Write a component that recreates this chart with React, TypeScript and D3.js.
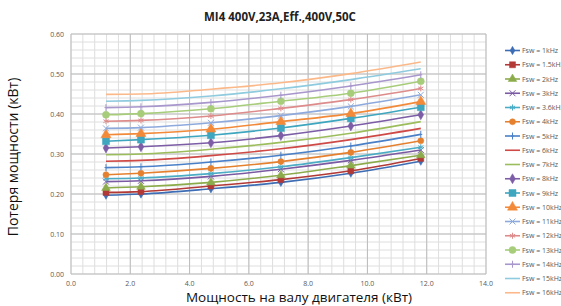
import React from 'react';
import * as d3 from 'd3';

// shaft power, kW
const powerKw = [1.18, 2.36, 4.72, 7.08, 9.44, 11.8];

// losses, kW, one list per switching frequency
const loss1k = [0.197, 0.200, 0.213, 0.229, 0.252, 0.282];
const loss1_5k = [0.204, 0.206, 0.220, 0.236, 0.258, 0.289];
const loss2k = [0.215, 0.218, 0.229, 0.247, 0.271, 0.297];
const loss3k = [0.231, 0.233, 0.244, 0.262, 0.284, 0.310];
const loss3_6k = [0.238, 0.240, 0.251, 0.268, 0.291, 0.317];
const loss4k = [0.248, 0.252, 0.264, 0.281, 0.304, 0.333];
const loss5k = [0.266, 0.268, 0.280, 0.297, 0.320, 0.349];
const loss6k = [0.282, 0.284, 0.296, 0.313, 0.336, 0.364];
const loss7k = [0.298, 0.300, 0.312, 0.329, 0.352, 0.381];
const loss8k = [0.315, 0.318, 0.328, 0.346, 0.370, 0.398];
const loss9k = [0.332, 0.336, 0.347, 0.365, 0.389, 0.417];
const loss10k = [0.348, 0.351, 0.362, 0.381, 0.401, 0.431];
const loss11k = [0.364, 0.366, 0.378, 0.396, 0.419, 0.448];
const loss12k = [0.382, 0.384, 0.395, 0.414, 0.436, 0.464];
const loss13k = [0.398, 0.401, 0.413, 0.432, 0.452, 0.482];
const loss14k = [0.416, 0.418, 0.429, 0.447, 0.470, 0.498];
const loss15k = [0.432, 0.434, 0.445, 0.463, 0.486, 0.513];
const loss16k = [0.449, 0.450, 0.462, 0.478, 0.501, 0.530];

const seriesNames = ['1kHz', '1.5kHz', '2kHz', '3kHz', '3.6kHz', '4kHz', '5kHz', '6kHz', '7kHz',
	'8kHz', '9kHz', '10kHz', '11kHz', '12kHz', '13kHz', '14kHz', '15kHz', '16kHz'];
const seriesValues = [loss1k, loss1_5k, loss2k, loss3k, loss3_6k, loss4k, loss5k, loss6k, loss7k,
	loss8k, loss9k, loss10k, loss11k, loss12k, loss13k, loss14k, loss15k, loss16k];

const xTicks = [0, 2, 4, 6, 8, 10, 12, 14];
const yTicks = [0, 0.1, 0.2, 0.3, 0.4, 0.5, 0.6];

// styling per series: colour, marker kind, marker size
const styles = [
	{ color: '#3d6db4', marker: 'diamond', size: 5 },
	{ color: '#b23936', marker: 'square', size: 6 },
	{ color: '#8cac4c', marker: 'triangle', size: 6 },
	{ color: '#7a5ba3', marker: 'times', size: 5 },
	{ color: '#4badc5', marker: 'asterisk', size: 5 },
	{ color: '#e5802f', marker: 'circle', size: 6 },
	{ color: '#4a80c8', marker: 'plus', size: 7 },
	{ color: '#cf4a47', marker: null, size: 0 },
	{ color: '#9cbd5c', marker: null, size: 0 },
	{ color: '#7c5da6', marker: 'diamond', size: 6 },
	{ color: '#3ea6bf', marker: 'square', size: 7 },
	{ color: '#f28a3a', marker: 'triangle', size: 7 },
	{ color: '#8eaadd', marker: 'times', size: 5 },
	{ color: '#de8b8b', marker: 'asterisk', size: 5 },
	{ color: '#a7cd7b', marker: 'circle', size: 7 },
	{ color: '#a897cc', marker: 'plus', size: 7 },
	{ color: '#8fcbdf', marker: null, size: 0 },
	{ color: '#fbb98a', marker: null, size: 0 },
];

const W = 561;
const H = 306;
const plot = { left: 71, right: 486, top: 34, bottom: 274 };
const font = '"Open Sans", "DejaVu Sans", sans-serif';

const x = d3.scaleLinear().domain([0, 14]).range([plot.left, plot.right]);
const y = d3.scaleLinear().domain([0, 0.6]).range([plot.bottom, plot.top]);

const symbolFor = (kind, size) => {
	const area = size * size;
	switch (kind) {
		case 'diamond': return { d: d3.symbol(d3.symbolDiamond, area * 0.8)(), fill: true };
		case 'square': return { d: d3.symbol(d3.symbolSquare, area)(), fill: true };
		case 'triangle': return { d: d3.symbol(d3.symbolTriangle, area * 0.9)(), fill: true };
		case 'circle': return { d: d3.symbol(d3.symbolCircle, area * 0.8)(), fill: true };
		case 'times': return { d: d3.symbol(d3.symbolTimes, area)(), fill: false };
		case 'asterisk': return { d: d3.symbol(d3.symbolAsterisk, area)(), fill: false };
		case 'plus': return { d: `M0,${ -size / 2 }V${ size / 2 }M-1.5,0H1.5`, fill: false };
		default: return null;
	}
};

const Marker = ({ kind, size, color, cx, cy }) => {
	const s = symbolFor(kind, size);
	if (!s) return null;
	return (
		<path d={ s.d } transform={ `translate(${ cx },${ cy })` }
			fill={ s.fill ? color : 'none' } stroke={ color } strokeWidth={ s.fill ? 0.5 : 1 }/>
	);
};

const App = () => {
	const line = d3.line()
		.x((d) => x(d[0]))
		.y((d) => y(d[1]))
		.curve(d3.curveMonotoneX);

	const minorX = d3.range(0, 14.001, 0.4);
	const minorY = d3.range(0, 0.6001, 0.02);
	const legendTop = 50.5;
	const legendStep = 14.25;

	return (
		<svg width={ W } height={ H } style={ { position: 'absolute', left: 0, top: 0, background: '#fff' } }
			fontFamily={ font }>
			<text x={ 280 } y={ 21 } textAnchor="middle" fontSize={ 11.5 } fontWeight="bold" fill="#222">
				MI4 400V,23A,Eff.,400V,50C
			</text>

			{ minorX.map((v, i) => (
				<line key={ `mx${ i }` } x1={ x(v) } x2={ x(v) } y1={ plot.top } y2={ plot.bottom }
					stroke="#dedede" strokeWidth={ 1 }/>
			)) }
			{ minorY.map((v, i) => (
				<line key={ `my${ i }` } x1={ plot.left } x2={ plot.right } y1={ y(v) } y2={ y(v) }
					stroke="#dedede" strokeWidth={ 1 }/>
			)) }
			{ xTicks.map((v) => (
				<line key={ `gx${ v }` } x1={ x(v) } x2={ x(v) } y1={ plot.top } y2={ plot.bottom }
					stroke="#bdbdbd" strokeWidth={ 1 }/>
			)) }
			{ yTicks.map((v) => (
				<line key={ `gy${ v }` } x1={ plot.left } x2={ plot.right } y1={ y(v) } y2={ y(v) }
					stroke="#bdbdbd" strokeWidth={ 1 }/>
			)) }

			{ yTicks.map((v) => (
				<text key={ `ty${ v }` } x={ plot.left - 7 } y={ y(v) + 2.5 } textAnchor="end"
					fontSize={ 7 } fill="#595959">{ d3.format('.2f')(v) }</text>
			)) }
			{ xTicks.map((v) => (
				<text key={ `tx${ v }` } x={ x(v) } y={ 285.5 } textAnchor="middle"
					fontSize={ 7 } fill="#595959">{ d3.format('.1f')(v) }</text>
			)) }

			{ seriesValues.map((vals, i) => (
				<g key={ seriesNames[i] }>
					<path d={ line(vals.map((v, j) => [powerKw[j], v])) } fill="none"
						stroke={ styles[i].color } strokeWidth={ 1.6 }/>
					{ vals.map((v, j) => (
						<Marker key={ j } kind={ styles[i].marker } size={ styles[i].size }
							color={ styles[i].color } cx={ x(powerKw[j]) } cy={ y(v) }/>
					)) }
				</g>
			)) }

			{ seriesNames.map((name, i) => {
				const ly = legendTop + i * legendStep;
				return (
					<g key={ `lg${ name }` }>
						<line x1={ 505 } x2={ 520 } y1={ ly } y2={ ly } stroke={ styles[i].color } strokeWidth={ 1.6 }/>
						<Marker kind={ styles[i].marker } size={ styles[i].size } color={ styles[i].color }
							cx={ 512.5 } cy={ ly }/>
						<text x={ 522 } y={ ly + 2.5 } fontSize={ 7 } fill="#595959">{ `Fsw = ${ name }` }</text>
					</g>
				);
			}) }

			<text transform={ `translate(18,${ 157 }) rotate(-90)` } textAnchor="middle" fontSize={ 14 }
				fill="#111">Потеря мощности (кВт)</text>
			<text x={ 299 } y={ 302 } textAnchor="middle" fontSize={ 13.5 } fill="#111">
				Мощность на валу двигателя (кВт)
			</text>
		</svg>
	);
};

export default App;
